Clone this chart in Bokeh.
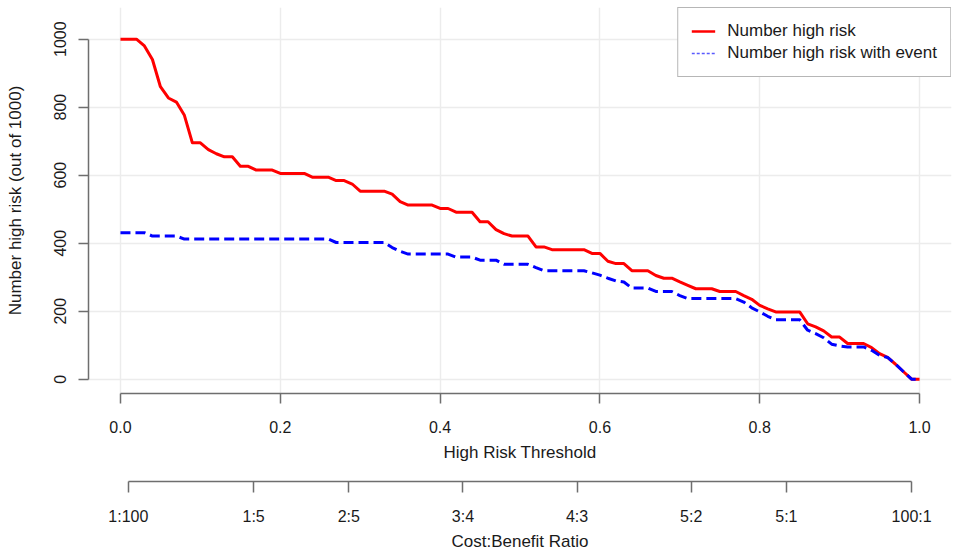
from bokeh.plotting import figure
from bokeh.models import (Range1d, LinearAxis, FixedTicker, PrintfTickFormatter,
                          CustomJSTickFormatter, Legend, LegendItem, ColumnDataSource, Grid)
from bokeh.embed import file_html
from bokeh.resources import INLINE

# ---------------- data ----------------
thresholds = [round(i * 0.01, 2) for i in range(101)]

number_high_risk = [
    1000, 1000, 1000, 980, 940, 860, 827, 815, 776, 695,
    695, 675, 663, 654, 654, 626, 626, 615, 615, 615,
    605, 605, 605, 605, 594, 594, 594, 584, 584, 574,
    553, 553, 553, 553, 544, 522, 512, 512, 512, 512,
    502, 502, 491, 491, 491, 463, 463, 440, 428, 421,
    421, 421, 389, 389, 381, 381, 381, 381, 381, 370,
    370, 347, 340, 340, 319, 319, 319, 305, 297, 297,
    286, 276, 266, 266, 266, 258, 258, 258, 246, 235,
    217, 207, 198, 198, 198, 198, 163, 154, 142, 124,
    124, 105, 105, 105, 93, 75, 64, 44, 22, 0,
    0]

number_high_risk_event = [
    431, 431, 431, 431, 421, 421, 421, 421, 412, 412,
    412, 412, 412, 412, 412, 412, 412, 412, 412, 412,
    412, 412, 412, 412, 412, 412, 412, 402, 402, 402,
    402, 402, 402, 402, 387, 376, 368, 368, 368, 368,
    368, 368, 359, 359, 359, 350, 350, 350, 338, 338,
    338, 338, 328, 319, 319, 319, 319, 319, 319, 313,
    306, 297, 289, 286, 268, 268, 268, 258, 258, 258,
    246, 237, 237, 237, 237, 237, 237, 237, 227, 210,
    198, 185, 175, 175, 175, 175, 144, 134, 122, 103,
    98, 95, 95, 95, 85, 70, 64, 44, 22, 0,
    0]

x_ticks = [0.0, 0.2, 0.4, 0.6, 0.8, 1.0]
y_ticks = [0, 200, 400, 600, 800, 1000]
# cost:benefit ratios (cost, benefit)
cb_pairs = [(1, 100), (1, 5), (2, 5), (3, 4), (4, 3), (5, 2), (5, 1), (100, 1)]
cb_labels = ["%d:%d" % (c, b) for c, b in cb_pairs]
cb_positions = [c / (c + b) for c, b in cb_pairs]

series_labels = ["Number high risk", "Number high risk with event"]

# ---------------- figure ----------------
FONT = "Liberation Sans"
AXIS_COLOR = "#6e6e6e"

p = figure(width=960, height=554, x_range=Range1d(-0.04, 1.04), y_range=Range1d(-42, 1093),
           output_backend="svg", toolbar_location=None,
           x_axis_type=None, y_axis_type=None,
           min_border_left=88, min_border_right=9, min_border_top=7, min_border_bottom=161)
p.outline_line_color = None
p.background_fill_color = "white"
p.border_fill_color = "white"


def style_axis(ax, tick_out, label_standoff, title_standoff):
    ax.axis_line_color = AXIS_COLOR
    ax.axis_line_width = 1.5
    ax.major_tick_line_color = AXIS_COLOR
    ax.major_tick_line_width = 1.5
    ax.major_tick_out = tick_out
    ax.major_tick_in = 0
    ax.minor_tick_line_color = None
    ax.major_label_text_font = FONT
    ax.major_label_text_font_size = "16px"
    ax.major_label_text_color = "#1a1a1a"
    ax.major_label_standoff = label_standoff
    ax.axis_label_text_font = FONT
    ax.axis_label_text_font_size = "17px"
    ax.axis_label_text_font_style = "normal"
    ax.axis_label_text_color = "#1a1a1a"
    ax.axis_label_standoff = title_standoff


yax = LinearAxis(ticker=FixedTicker(ticks=y_ticks), bounds=(0, 1000),
                 axis_label="Number high risk (out of 1000)",
                 major_label_orientation="vertical")
style_axis(yax, 10, 12, 27)
p.add_layout(yax, "left")

xax = LinearAxis(ticker=FixedTicker(ticks=x_ticks), bounds=(0, 1),
                 formatter=PrintfTickFormatter(format="%.1f"),
                 axis_label="High Risk Threshold\n")
style_axis(xax, 10, 17, 7)
xax.axis_label_text_line_height = 0.9
p.add_layout(xax, "below")

cb_formatter = CustomJSTickFormatter(args=dict(pos=cb_positions, labels=cb_labels), code="""
let best = 0; let bd = Infinity;
for (let i = 0; i < pos.length; i++) {
  const d = Math.abs(pos[i] - tick);
  if (d < bd) { bd = d; best = i; }
}
return labels[best];
""")
cbax = LinearAxis(ticker=FixedTicker(ticks=cb_positions),
                  bounds=(cb_positions[0], cb_positions[-1]),
                  formatter=cb_formatter, axis_label="Cost:Benefit Ratio")
style_axis(cbax, 11, 15, 4)
p.add_layout(cbax, "below")

p.add_layout(Grid(dimension=0, ticker=FixedTicker(ticks=x_ticks),
                  grid_line_color="#ececec", grid_line_width=1.5))
p.add_layout(Grid(dimension=1, ticker=FixedTicker(ticks=y_ticks),
                  grid_line_color="#ececec", grid_line_width=1.5))

src = ColumnDataSource(dict(t=thresholds, high=number_high_risk, ev=number_high_risk_event))
p.line("t", "high", source=src, line_color="#ff0000", line_width=3, line_join="round")
p.line("t", "ev", source=src, line_color="#0000ff", line_width=3, line_dash="10 5")

# legend sample glyphs (placed outside the visible ranges, used only by the legend)
leg_r1 = p.line(x=[-5, -4], y=[-5000, -5000], line_color="#ff0000", line_width=2.5)
leg_r2 = p.line(x=[-5, -4], y=[-5000, -5000], line_color="#5a5aff", line_width=1.6, line_dash="3 2")
legend = Legend(items=[LegendItem(label=series_labels[0], renderers=[leg_r1]),
                       LegendItem(label=series_labels[1], renderers=[leg_r2])],
                location="top_right", margin=0, padding=13, spacing=2,
                glyph_width=24, glyph_height=20, label_height=20, label_standoff=12,
                label_text_font=FONT, label_text_font_size="17px", label_text_color="#1a1a1a",
                border_line_color=AXIS_COLOR, border_line_width=1.5,
                background_fill_color="white", background_fill_alpha=1.0)
p.add_layout(legend)

open("out.html", "w").write(file_html(p, INLINE, "Clinical impact curve"))
